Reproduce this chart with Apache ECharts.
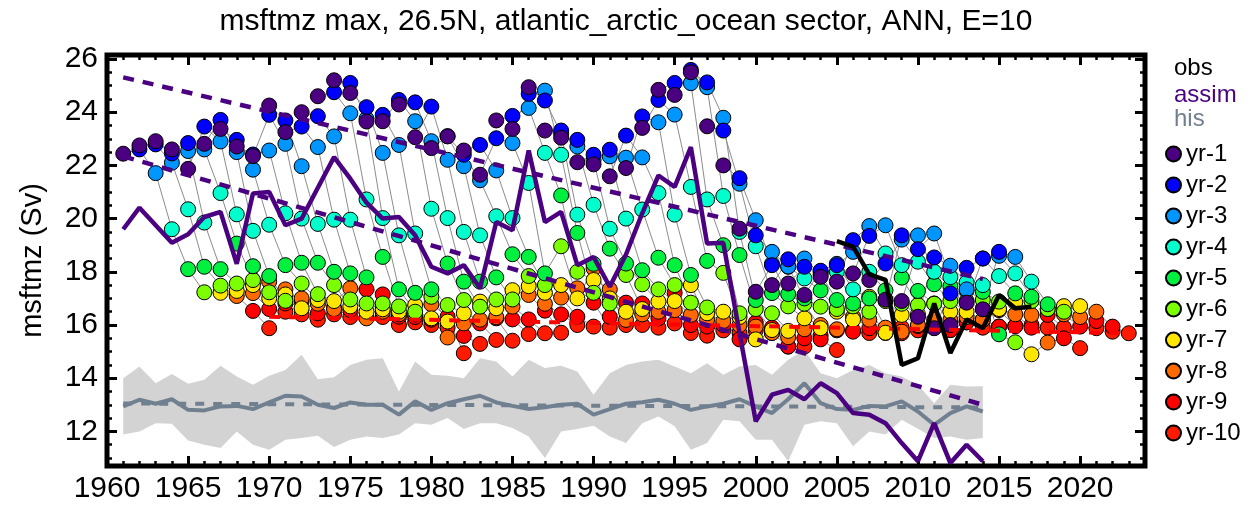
<!DOCTYPE html>
<html><head><meta charset="utf-8">
<script src="https://cdn.jsdelivr.net/npm/echarts@6/dist/echarts.min.js"></script>
<style>html,body{margin:0;padding:0;background:#fff}#c{width:1252px;height:508px}</style>
</head><body><div id="c"></div>
<script>
// ---------------- data ----------------
const title = 'msftmz max, 26.5N, atlantic_arctic_ocean sector, ANN, E=10';
const yName = 'msftmz (Sv)';
const xTickLabels = [1960,1965,1970,1975,1980,1985,1990,1995,2000,2005,2010,2015,2020];
const yTickLabels = [12,14,16,18,20,22,24,26];

const hisStart = 1961;
const hisMean = [12.94,13.19,13.04,13.21,12.81,12.79,12.94,12.96,12.84,13.09,
 13.34,13.31,13.0,12.88,13.09,13.0,13.0,12.63,13.13,12.81,
 13.06,13.21,13.34,13.09,12.96,12.84,12.91,13.0,13.04,12.63,
 12.84,13.04,13.1,13.19,13.04,12.81,12.94,13.04,13.21,12.94,
 12.69,13.21,13.81,13.06,12.84,12.81,12.96,12.94,13.13,12.75,
 12.25,12.69,12.94,12.75];
const hisHigh = [14.0,14.44,13.81,14.16,13.79,13.94,14.47,14.06,13.75,14.09,
 14.31,14.88,13.96,14.04,14.5,14.69,14.75,13.5,14.63,14.13,
 14.09,14.0,14.75,14.63,14.06,14.69,14.38,14.47,14.25,13.38,
 14.19,14.5,14.63,14.69,14.44,14.19,14.56,14.13,14.44,14.5,
 14.13,14.69,15.06,14.19,14.0,14.31,14.5,14.19,14.06,13.75,
 13.06,13.75,13.69,13.7];
const hisLow = [11.88,12.0,12.31,12.29,11.66,11.5,11.38,12.0,11.5,11.31,
 11.69,11.75,11.84,11.41,11.69,11.81,11.75,11.88,12.31,12.25,
 12.5,12.09,12.31,12.31,12.13,11.81,11.0,12.0,12.09,12.21,
 11.81,11.56,12.31,12.56,12.19,11.31,11.56,12.44,12.38,11.69,
 11.69,10.88,12.25,12.38,12.31,11.44,12.0,11.88,12.44,12.1,
 11.75,11.81,11.69,11.75];
const hisTrend = [[1961,13.05],[2014,12.9]];

const assimStart = 1961;
const assim = [19.6,20.41,19.75,19.09,19.41,20.06,20.25,18.3,20.94,21.0,
 19.75,20.0,21.16,22.31,21.5,20.6,20.0,20.06,19.37,18.19,
 17.94,18.25,17.38,19.87,19.56,22.56,19.87,20.25,18.25,18.56,
 17.44,18.65,20.2,21.62,21.19,22.69,19.06,19.09,15.7,12.38,
 13.38,13.56,13.21,13.81,13.44,12.69,12.63,12.31,11.56,10.88,
 12.31,10.81,11.5,10.88];
const assimTrendUpper = [[1961,25.31],[2014,17.73]];
const assimTrendLower = [[1961,22.34],[2014,13.0]];

const obsStart = 2005;
const obs = [19.15,18.95,17.9,17.7,14.5,14.75,16.81,14.95,16.21,15.88,17.13,16.63,16.69];

const yr10Trend = [[1970,16.31],[2023,15.69]];

// lead-year forecasts: yr-k starts in 1960+k (initialisations 1960..2013)
const yr1 = [22.44,22.75,22.91,22.6,21.87,22.81,23.37,22.71,22.35,24.25,
 23.25,24.0,24.6,25.2,24.72,23.65,23.66,24.29,23.06,22.65,
 23.09,22.56,21.65,23.69,23.37,24.94,23.31,23.04,22.12,22.04,
 21.59,21.9,23.41,24.84,24.65,25.5,23.47,22.0,19.62,17.25,
 17.5,17.56,17.13,17.81,17.63,17.94,17.69,16.95,16.9,16.31,
 15.88,16.0,16.84,16.59];
const yr2 = [22.6,22.79,22.45,22.84,23.46,23.71,22.96,22.41,23.9,23.69,
 23.46,23.85,24.75,25.1,24.19,23.9,24.46,24.37,24.21,23.1,
 22.4,22.77,23.02,23.86,24.69,24.44,23.31,22.96,22.4,22.59,
 23.12,23.84,24.46,25.1,25.59,25.12,23.31,21.52,19.37,18.25,
 18.47,18.19,18.04,18.25,19.19,19.35,18.31,19.37,18.85,18.54,
 17.19,18.15,18.5,18.75];
const yr3 = [21.71,22.1,22.54,22.6,22.9,22.5,21.84,22.56,22.81,21.97,
 22.69,23.09,23.96,23.75,22.47,22.77,23.66,22.91,22.21,21.97,
 21.44,21.81,22.84,24.16,24.81,23.2,22.71,22.2,22.34,22.29,
 22.3,23.62,23.91,25.09,24.94,23.79,21.31,19.94,18.75,18.2,
 18.5,18.0,18.3,18.75,19.72,19.75,19.21,19.37,19.44,18.23,
 17.34,18.5,18.6,18.56];
const yr4 = [19.6,20.35,19.85,20.96,20.16,19.54,19.77,20.2,20.0,19.8,
 19.96,19.96,20.72,20.02,19.37,19.44,20.37,20.02,19.5,19.37,
 20.09,20.02,21.34,22.47,22.4,20.15,20.52,19.62,20.0,20.34,
 20.96,20.15,21.19,20.72,20.85,19.5,18.96,18.3,18.19,17.75,
 17.9,18.0,17.34,18.0,18.69,18.25,18.38,18.0,17.8,17.6,
 17.5,17.84,17.94,17.63];
const yr5 = [18.1,18.19,18.1,19.06,18.21,17.84,18.25,18.34,18.34,18.0,
 17.94,17.79,18.56,17.34,17.21,17.34,18.31,17.63,17.63,17.79,
 18.66,18.56,17.94,20.87,19.46,18.3,18.87,18.31,18.06,18.53,
 18.25,17.88,18.41,19.0,18.63,16.94,17.2,17.16,17.0,17.3,
 16.94,16.81,17.0,17.3,17.78,17.28,17.53,17.46,17.3,17.25,
 15.65,17.19,17.06,16.78];
const yr6 = [17.23,17.48,17.56,17.69,17.23,16.91,17.56,17.16,17.5,16.96,
 16.81,16.81,16.7,16.5,17.06,16.75,16.94,16.69,16.96,16.96,
 17.84,17.5,18.96,18.0,17.21,16.81,17.88,17.53,17.34,17.5,
 16.84,16.66,17.96,16.44,16.6,16.44,16.7,16.8,16.69,16.6,
 16.7,16.5,16.9,16.8,16.75,16.8,16.9,16.9,16.94,16.88,
 15.35,16.9,16.6,16.5];
const yr7 = [17.21,17.28,17.5,17.0,17.15,16.63,16.94,16.9,16.7,16.5,
 16.59,16.5,16.75,16.25,16.13,16.44,16.88,16.63,17.31,17.46,
 17.21,17.5,17.0,17.69,17.0,16.5,16.6,16.88,16.9,17.5,
 16.44,16.5,16.3,15.46,15.81,15.78,16.25,15.88,16.5,16.2,
 17.06,15.71,16.38,16.4,16.81,16.5,16.5,16.6,16.6,16.85,
 14.9,16.6,16.71,16.71];
const yr8 = [17.09,17.2,17.63,17.34,17.0,16.8,16.6,17.38,16.25,16.5,
 16.4,16.4,16.78,15.53,16.06,16.2,16.3,16.69,17.13,16.8,
 17.03,17.38,18.13,17.34,16.19,16.4,16.5,16.56,16.38,16.2,
 16.15,16.0,15.94,15.7,15.54,15.84,16.0,15.84,16.31,16.2,
 15.9,15.75,16.0,16.19,16.19,16.3,16.2,16.56,16.4,16.38,
 15.34,16.4,16.3,16.5];
const yr9 = [16.53,16.6,16.81,16.9,16.44,16.65,16.56,17.34,17.15,16.31,
 16.3,16.2,16.31,15.59,16.06,16.25,16.21,16.21,16.54,16.4,
 16.31,16.84,16.31,16.84,16.81,16.25,17.21,16.0,15.94,16.0,
 15.46,16.09,15.9,15.19,15.5,15.46,15.8,15.75,15.88,15.8,
 15.69,15.96,15.9,15.81,16.1,16.19,15.94,15.96,15.9,16.38,
 15.5,15.94,16.15,15.94];
const yr10 = [15.88,16.5,16.4,16.2,16.4,16.3,16.3,16.3,16.0,16.1,
 16.0,15.9,14.94,15.29,15.44,15.41,15.66,15.69,15.71,16.0,
 15.94,15.9,16.0,16.0,15.9,16.06,15.7,15.6,15.8,15.7,
 15.8,15.7,15.19,15.19,15.6,15.06,15.8,15.7,15.7,15.9,
 15.8,15.9,15.81,16.1,15.9,15.94,15.96,16.0,15.9,15.9,
 15.13,15.88,15.75,15.69];
const leadNames = ['yr-1','yr-2','yr-3','yr-4','yr-5','yr-6','yr-7','yr-8','yr-9','yr-10'];
const leadColors = ['#4B0082','#0000FF','#0096FF','#00FFCC','#00F040','#7CFF00','#FFE600','#FF6A00','#FF0000','#FF1A00'];
const firstInit = 1960;

// ---------------- build ----------------
const leads = [yr1,yr2,yr3,yr4,yr5,yr6,yr7,yr8,yr9,yr10];
const FONT = 'Liberation Sans, Arial, Helvetica, sans-serif';
const toPairs = (start, arr) => arr.map((v,i)=>[start+i, v]);
const range = (a,b,s)=>{const r=[];for(let v=a;v<=b+1e-9;v+=s)r.push(+v.toFixed(3));return r;};
const X0=1960, X1=2024, Y0=10.7, Y1=26.15;
const TICKFONT = 30;

const chains = [];
for (let i=0;i<yr1.length;i++){
  const coords=[];
  leads.forEach((arr,k)=>{ if(arr[i]!=null) coords.push([firstInit+i+k+1, arr[i]]); });
  chains.push({coords});
}

const gridRect = {left:107, right:107, top:55, bottom:42};
function xAx(grid, pos, major){
  return {type:'value', gridIndex:grid, position:pos, min:X0, max:X1, z:10,
    axisLine:{show:false}, splitLine:{show:false},
    axisTick:{show:true, inside:true, length: major?10:5, customValues: major?xTickLabels:range(X0,X1,1),
      lineStyle:{color:'#000', width: major?3:2.5}},
    axisLabel:{show: major && pos==='bottom', customValues:xTickLabels, formatter:v=>String(v),
      fontSize:TICKFONT, color:'#000', fontFamily:FONT, margin:8}};
}
function yAx(grid, pos, major, withName){
  const a = {type:'value', gridIndex:grid, position:pos, min:Y0, max:Y1, z:10,
    axisLine:{show:false}, splitLine:{show:false},
    axisTick:{show:true, inside:true, length: major?10:5, customValues: major?yTickLabels:range(11,26,0.5),
      lineStyle:{color:'#000', width: major?3:2.5}},
    axisLabel:{show: major && pos==='left', customValues:yTickLabels, formatter:v=>String(v),
      fontSize:TICKFONT, color:'#000', fontFamily:FONT, margin:9}};
  if (withName){ a.name=yName; a.nameLocation='middle'; a.nameGap=60;
    a.nameTextStyle={fontSize:29, color:'#000', fontFamily:FONT}; }
  return a;
}

const series = [];
series.push({type:'custom', name:'hisBand', silent:true, z:1,
  data: hisLow.map((v,i)=>[hisStart+i, v, hisHigh[i]]),
  encode:{x:0, y:[1,2]},
  renderItem:(params, api)=>{
    if (params.dataIndex!==0) return null;
    const up=[], lo=[];
    for (let i=0;i<hisLow.length;i++){
      up.push(api.coord([hisStart+i, hisHigh[i]]));
      lo.push(api.coord([hisStart+i, hisLow[i]]));
    }
    return {type:'polygon', shape:{points: up.concat(lo.reverse())}, style:{fill:'#D3D3D3'}};
  }});
series.push({type:'line', name:'hisTrend', data:hisTrend, symbol:'none', lineStyle:{color:'#708090', width:4, type:[9,9]}, z:2});
series.push({type:'line', name:'his', data:toPairs(hisStart,hisMean), symbol:'none', lineStyle:{color:'#708090', width:4}, z:3});
series.push({type:'lines', coordinateSystem:'cartesian2d', polyline:true, data:chains, lineStyle:{color:'#8C8C8C', width:1, opacity:1}, silent:true, z:4});
for (let k=9;k>=0;k--){
  series.push({type:'scatter', name:leadNames[k], data:toPairs(firstInit+k+1, leads[k]), symbol:'circle', symbolSize:15,
    itemStyle:{color:leadColors[k], borderColor:'#000', borderWidth:1, opacity:1}, z:5+(9-k)});
}
series.push({type:'line', name:'yr10Trend', data:yr10Trend, symbol:'none', lineStyle:{color:'#FF0000', width:4, type:[11,9]}, z:20});
series.push({type:'line', name:'assimTrendU', data:assimTrendUpper, symbol:'none', lineStyle:{color:'#4B0082', width:4.5, type:[11,9]}, z:21});
series.push({type:'line', name:'assimTrendL', data:assimTrendLower, symbol:'none', lineStyle:{color:'#4B0082', width:4.5, type:[11,9]}, z:21});
series.push({type:'line', name:'assim', data:toPairs(assimStart,assim), symbol:'none', lineStyle:{color:'#4B0082', width:4.5}, z:22});
series.push({type:'line', name:'obs', data:toPairs(obsStart,obs), symbol:'none', lineStyle:{color:'#000', width:4.5}, z:23});

const option = {
  animation:false,
  backgroundColor:'#fff',
  title:{text:title, left:'center', top:2, textStyle:{fontSize:30, fontWeight:'normal', color:'#000', fontFamily:FONT}},
  grid:[Object.assign({show:true, borderColor:'#000', borderWidth:5, backgroundColor:'transparent'},gridRect),
        Object.assign({show:false},gridRect)],
  xAxis:[xAx(0,'bottom',true), xAx(0,'top',true), xAx(1,'bottom',false), xAx(1,'top',false)],
  yAxis:[yAx(0,'left',true,true), yAx(0,'right',true,false), yAx(1,'left',false,false), yAx(1,'right',false,false)],
  legend:{data:leadNames, orient:'vertical', left:1160, top:137, itemWidth:15, itemHeight:15, itemGap:7, icon:'circle',
    textStyle:{fontSize:24, lineHeight:24, color:'#000', fontFamily:FONT}, selectedMode:false},
  graphic:[
    {type:'text', left:1174, top:56, style:{text:'obs', fontSize:24, fill:'#000', fontFamily:FONT}},
    {type:'text', left:1174, top:83, style:{text:'assim', fontSize:24, fill:'#4B0082', fontFamily:FONT}},
    {type:'text', left:1174, top:107, style:{text:'his', fontSize:24, fill:'#708090', fontFamily:FONT}}
  ],
  series
};
const chart = echarts.init(document.getElementById('c'));
chart.setOption(option);
</script></body></html>
